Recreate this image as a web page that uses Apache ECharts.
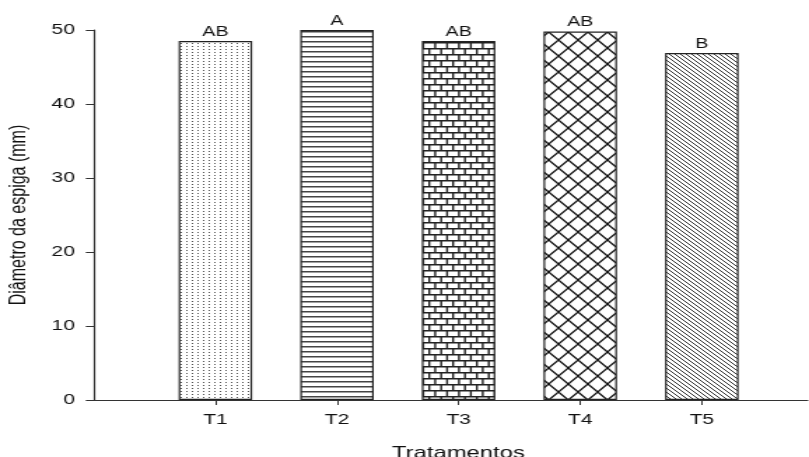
<!DOCTYPE html>
<html>
<head>
<meta charset="utf-8">
<script src="https://cdn.jsdelivr.net/npm/echarts@6/dist/echarts.min.js"></script>
<style>
  html, body { margin: 0; padding: 0; background: #fff; overflow: hidden; }
  /* a figura original está esticada na horizontal, por isso desenha-se estreita e estica-se */
  #chart { width: 578px; height: 457px; transform: scaleX(1.3997); transform-origin: 0 0; }
</style>
</head>
<body>
<div id="chart"></div>
<script>
// dados
const categories = ['T1', 'T2', 'T3', 'T4', 'T5']
const diametro = [48.5, 50.0, 48.5, 49.8, 46.9]
const letras = ['AB', 'A', 'AB', 'AB', 'B']

// cria um ladrilho (canvas) para preencher as barras
function tile(w, h, draw) {
  const c = document.createElement('canvas')
  c.width = w
  c.height = h
  const ctx = c.getContext('2d')
  ctx.fillStyle = '#fff'
  ctx.fillRect(0, 0, w, h)
  draw(ctx, w, h)
  return { image: c, repeat: 'repeat' }
}

const patterns = [
  // pontos
  tile(4, 3, (ctx) => {
    ctx.fillStyle = '#555'
    ctx.fillRect(1, 1, 1, 1)
  }),
  // linhas horizontais
  tile(4, 5, (ctx, w) => {
    ctx.fillStyle = '#444'
    ctx.fillRect(0, 1, w, 1.5)
  }),
  // tijolos
  tile(17, 12, (ctx, w) => {
    ctx.strokeStyle = '#222'
    ctx.lineWidth = 1.4
    ctx.beginPath()
    ctx.moveTo(0, 0.7); ctx.lineTo(w, 0.7)
    ctx.moveTo(0, 6.7); ctx.lineTo(w, 6.7)
    ctx.moveTo(0.7, 0); ctx.lineTo(0.7, 6)
    ctx.moveTo(9.2, 0); ctx.lineTo(9.2, 6)
    ctx.moveTo(4.9, 6); ctx.lineTo(4.9, 12)
    ctx.moveTo(13.4, 6); ctx.lineTo(13.4, 12)
    ctx.stroke()
  }),
  // losangos cruzados
  tile(14, 16, (ctx, w, h) => {
    ctx.strokeStyle = '#111'
    ctx.lineWidth = 1.3
    ctx.beginPath()
    ctx.moveTo(-1, -1.14); ctx.lineTo(w + 1, h + 1.14)
    ctx.moveTo(w + 1, -1.14); ctx.lineTo(-1, h + 1.14)
    ctx.stroke()
  }),
  // diagonais
  tile(4, 4, (ctx) => {
    ctx.strokeStyle = '#333'
    ctx.lineWidth = 1
    ctx.beginPath()
    for (let k = -1; k <= 1; k++) {
      ctx.moveTo(k * 4 - 1, -1)
      ctx.lineTo(k * 4 + 5, 5)
    }
    ctx.stroke()
  }),
]

const chart = echarts.init(document.getElementById('chart'), null, { renderer: 'canvas' })

const font = 'Liberation Sans, Arial, sans-serif'
const axisColor = '#333'

chart.setOption({
  animation: false,
  grid: { left: 67, right: 1, top: 30, bottom: 57, containLabel: false, outerBoundsMode: 'none' },
  xAxis: {
    type: 'value',
    min: 0,
    max: 5.87,
    interval: 1,
    name: 'Tratamentos',
    nameLocation: 'middle',
    nameGap: 45,
    nameTextStyle: { fontFamily: font, fontSize: 17, color: '#111', padding: [0, 0, 0, 11] },
    splitLine: { show: false },
    axisLine: { onZero: false, lineStyle: { color: axisColor, width: 1.2 } },
    axisTick: { show: true, length: 5, customValues: [1, 2, 3, 4, 5], lineStyle: { color: axisColor } },
    axisLabel: {
      customValues: [1, 2, 3, 4, 5],
      margin: 12,
      fontFamily: font,
      fontSize: 15,
      color: '#111',
      formatter: (v) => categories[Math.round(v) - 1] || '',
    },
  },
  yAxis: {
    type: 'value',
    min: 0,
    max: 50,
    interval: 10,
    name: 'Diâmetro da espiga (mm)',
    nameLocation: 'middle',
    nameRotate: 90,
    nameGap: 45,
    nameTextStyle: { fontFamily: font, fontSize: 16, color: '#111' },
    splitLine: { show: false },
    axisLine: { show: true, lineStyle: { color: axisColor, width: 1.2 } },
    axisTick: { show: true, length: 5.7, lineStyle: { color: axisColor } },
    axisLabel: { margin: 13.5, fontFamily: font, fontSize: 15, color: '#111' },
  },
  series: [
    {
      type: 'bar',
      barWidth: 52.5,
      data: categories.map((c, i) => ({
        value: [i + 1, diametro[i]],
        itemStyle: { color: patterns[i] },
        label: { formatter: letras[i] },
      })),
      itemStyle: { borderColor: '#222', borderWidth: 1.2 },
      label: {
        show: true,
        position: 'top',
        distance: 2,
        fontFamily: font,
        fontSize: 14,
        color: '#111',
      },
    },
  ],
})
</script>
</body>
</html>
